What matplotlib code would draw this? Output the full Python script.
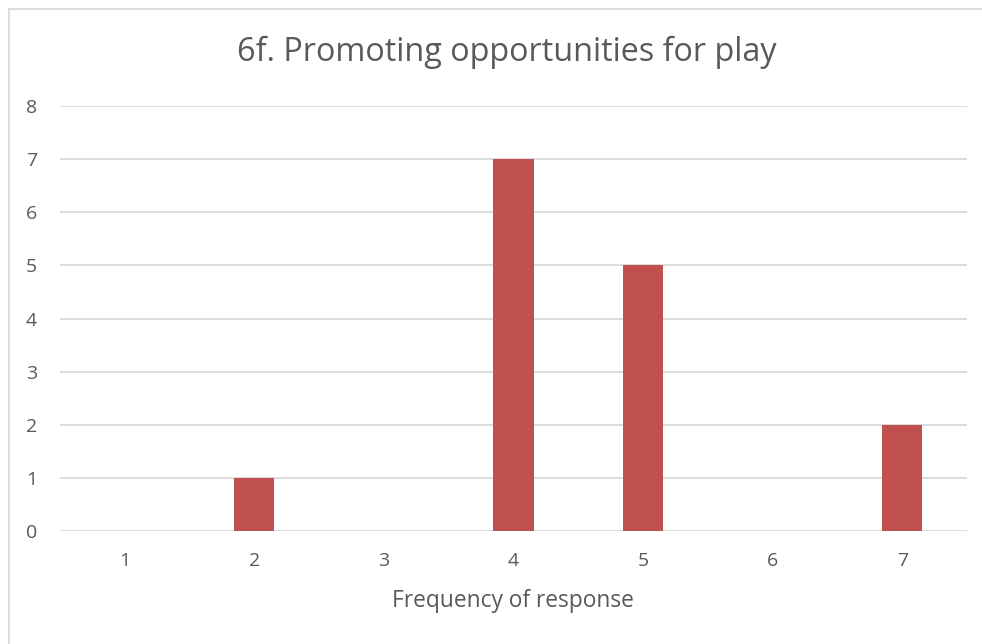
import matplotlib
matplotlib.use("Agg")
import matplotlib.pyplot as plt
from matplotlib.lines import Line2D

categories = ["1", "2", "3", "4", "5", "6", "7"]
values = [0, 1, 0, 7, 5, 0, 2]
yticks = [0, 1, 2, 3, 4, 5, 6, 7, 8]

plt.rcParams['font.family'] = ['Open Sans', 'DejaVu Sans']

W, H = 982, 644
fig = plt.figure(figsize=(W / 100, H / 100), dpi=100)
ax = fig.add_axes([60 / W, (H - 531) / H, (967 - 60) / W, (531 - 106) / H])

x = list(range(len(categories)))
ax.bar(x, values, width=0.31, color="#C0504D", zorder=3)
ax.set_xlim(-0.5, len(categories) - 0.5)
ax.set_ylim(0, 8)
ax.set_yticks(yticks)
ax.set_xticks(x)
ax.set_xticklabels(categories)
ax.grid(axis="y", color="#D9D9D9", linewidth=1.3, zorder=0)
for s in ax.spines.values():
    s.set_visible(False)
ax.tick_params(axis="both", length=0, labelsize=14, colors="#595959")
ax.tick_params(axis="y", pad=16.5)
ax.tick_params(axis="x", pad=15)

fig.text(513 / W, 1 - 601 / H, "Frequency of response",
         ha="center", va="center", fontsize=16.4, color="#595959")
fig.text((237 + 776) / 2 / W, 1 - 52 / H, "6f. Promoting opportunities for play",
         ha="center", va="center", fontsize=23.3, color="#595959")

# outer border (left and top)
fig.add_artist(Line2D([8.5 / W, 8.5 / W], [0, 1 - 8.5 / H], color="#D9D9D9", lw=1.3, transform=fig.transFigure))
fig.add_artist(Line2D([8.5 / W, 1], [1 - 8.5 / H, 1 - 8.5 / H], color="#D9D9D9", lw=1.3, transform=fig.transFigure))

fig.savefig("out.png", dpi=100, facecolor="white")
